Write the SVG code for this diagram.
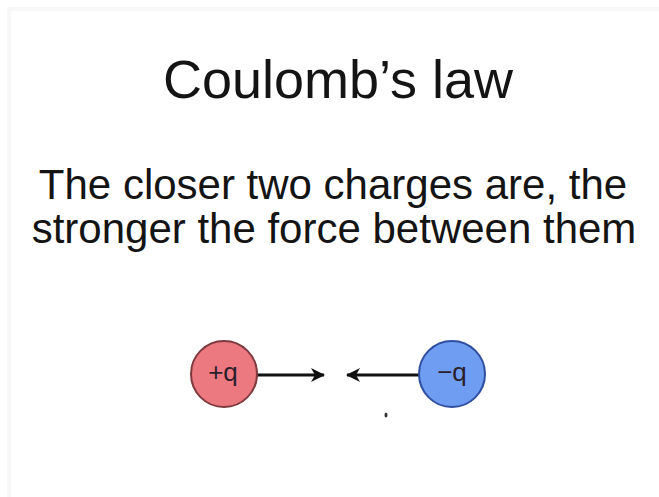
<svg xmlns="http://www.w3.org/2000/svg" width="659" height="497" viewBox="0 0 659 497">
  <defs>
    <marker id="arr" viewBox="0 0 14 14" refX="13" refY="7" markerWidth="14" markerHeight="14" markerUnits="userSpaceOnUse" orient="auto">
      <path d="M0,0 L14,7 L0,14 L4,7 Z" fill="#111"/>
    </marker>
  </defs>
  <style>
    text { font-family: "Liberation Sans", Arial, sans-serif; fill: #141414; }
    .title { font-size: 54px; }
    .sub { font-size: 42px; }
    .lbl { font-size: 26px; fill: #2a1e2a; }
    .conn { stroke: #111; stroke-width: 2.8; fill: none; }
  </style>
  <rect x="0" y="0" width="659" height="497" fill="#ffffff"/>
  <path d="M9,497 V9 H659" fill="none" stroke="#f8f8f8" stroke-width="4"/>
  <g id="title"><text class="title" x="338" y="98" text-anchor="middle">Coulomb’s law</text></g>
  <g id="subtitle">
    <text class="sub" x="333" y="199" text-anchor="middle">The closer two charges are, the</text>
    <text class="sub" x="334" y="243" text-anchor="middle">stronger the force between them</text>
  </g>
  <g id="connectors">
    <line class="conn" x1="257" y1="375" x2="324" y2="375" marker-end="url(#arr)"/>
    <line class="conn" x1="420" y1="375" x2="347" y2="375" marker-end="url(#arr)"/>
  </g>
  <g id="pos">
    <circle cx="224" cy="374" r="33" fill="#ec7880" stroke="#7e3a3e" stroke-width="2"/>
    <text class="lbl" x="223" y="381" text-anchor="middle">+q</text>
  </g>
  <g id="neg">
    <circle cx="452" cy="374" r="33" fill="#6f9df2" stroke="#2f4f9e" stroke-width="2"/>
    <text class="lbl" x="452" y="381" text-anchor="middle">−q</text>
  </g>
  <ellipse cx="386" cy="415" rx="1.5" ry="2.5" fill="#333"/>
</svg>
